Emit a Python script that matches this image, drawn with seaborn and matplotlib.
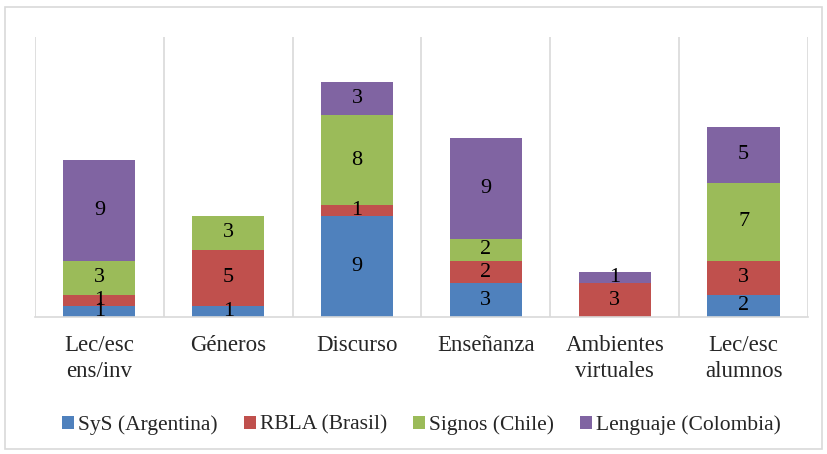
import seaborn as sns
import matplotlib.pyplot as plt
import pandas as pd
from matplotlib.patches import Rectangle

categories = ["Lec/esc\nens/inv", "Géneros", "Discurso", "Enseñanza", "Ambientes\nvirtuales", "Lec/esc\nalumnos"]
series = ["SyS (Argentina)", "RBLA (Brasil)", "Signos (Chile)", "Lenguaje (Colombia)"]
sys_arg = [1, 1, 9, 3, 0, 2]
rbla_bra = [1, 5, 1, 2, 3, 3]
signos_chi = [3, 3, 8, 2, 0, 7]
lenguaje_col = [9, 0, 3, 9, 1, 5]
colors = ["#4F81BD", "#C0504D", "#9BBB59", "#8064A2"]

if __name__ == "__main__":
    sns.set_style("white")
    fam = ["Liberation Serif", "DejaVu Serif"]
    plt.rcParams["font.family"] = fam

    values = [sys_arg, rbla_bra, signos_chi, lenguaje_col]
    fig = plt.figure(figsize=(8.27, 4.54), dpi=100)
    ax = fig.add_axes([0.0423, 0.3018, 0.9347, 0.6167])

    bottom = [0] * len(categories)
    for name, vals, col in zip(series, values, colors):
        df = pd.DataFrame({"cat": categories, "val": vals})
        sns.barplot(data=df, x="cat", y="val", order=categories, color=col,
                    saturation=1, bottom=bottom, width=0.56, label=name, ax=ax,
                    linewidth=0, errorbar=None)
        bottom = [b + v for b, v in zip(bottom, vals)]

    for cont in ax.containers:
        labels = [str(int(r.get_height())) if r.get_height() > 0 else "" for r in cont]
        ax.bar_label(cont, labels=labels, label_type="center", fontsize=16,
                     color="black", family=fam)

    ax.set_ylim(0, 25)
    ax.set_xlim(-0.5, len(categories) - 0.5)
    for i in range(len(categories) + 1):
        ax.axvline(i - 0.5, color="#d9d9d9", linewidth=1.2, zorder=0)
    ax.set_yticks([])
    ax.set_xlabel("")
    ax.set_ylabel("")
    ax.tick_params(axis="x", length=0, pad=13)
    for t in ax.get_xticklabels():
        t.set_fontsize(16.5)
        t.set_family(fam)
        t.set_linespacing(1.3)
    for s in ["top", "left", "right"]:
        ax.spines[s].set_visible(False)
    ax.spines["bottom"].set_color("#d9d9d9")
    ax.spines["bottom"].set_linewidth(1.2)

    ax.legend(loc="center", bbox_to_anchor=(0.5, -0.385), ncol=4, frameon=False,
              prop={"family": fam, "size": 15.5}, handlelength=0.55, handleheight=0.55,
              handletextpad=0.2, columnspacing=1.2)

    fig.patches.append(Rectangle((0.006, 0.011), 0.988, 0.973, transform=fig.transFigure,
                                 fill=False, edgecolor="#d9d9d9", linewidth=1.2))
    fig.savefig("out.png", dpi=100)
